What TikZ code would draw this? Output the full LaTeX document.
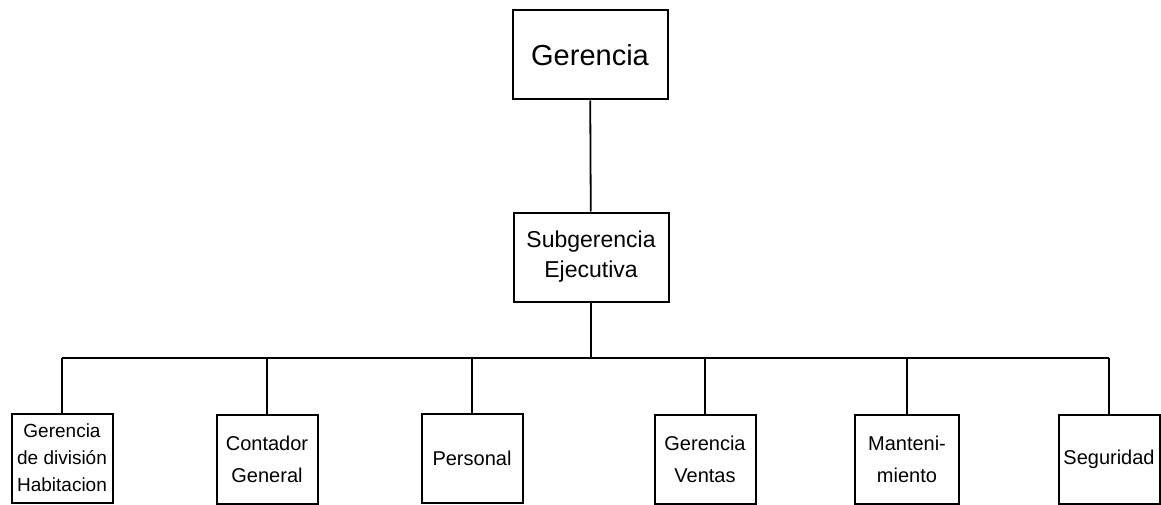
\documentclass[tikz,border=0pt]{standalone}
\usepackage{fontspec}
\setmainfont{Liberation Sans}
\usepackage{tikz}
\usetikzlibrary{positioning, calc}
\tikzset{
    box/.style={rectangle, draw, line width=2pt, inner sep=0pt, minimum height=89pt, align=center},
    topbox/.style={box, minimum width=155pt},
    unitbox/.style={box, minimum width=101pt, font=\fontsize{20}{32}\selectfont},
    link/.style={line width=1.8pt}
}

\begin{document}
\begin{tikzpicture}[x=1pt, y=-1pt]
    \useasboundingbox (0,0) rectangle (1161,505);
    % top of the chart
    \node (ger) [topbox, font=\fontsize{29}{32}\selectfont] at (590,55) {Gerencia};
    \node (subger) [topbox, font=\fontsize{23}{30}\selectfont] at (591,257) {Subgerencia\\Ejecutiva};

    % units
    \node (habit) [unitbox, font=\fontsize{19}{27}\selectfont] at (62,458) {Gerencia\\de división\\Habitacion};
    \node (conta) [unitbox] at (267,459) {Contador\\General};
    \node (perso) [unitbox] at (472,458) {Personal};
    \node (ventas) [unitbox] at (705,459) {Gerencia\\Ventas};
    \node (mant) [unitbox, minimum width=104pt] at (907,459) {Manteni-\\miento};
    \node (segur) [unitbox] at (1109,459) {Seguridad};

    \coordinate (bar) at (0,358);

    \draw [link] (ger) -- (subger);
    \draw [link] (subger.south) -- (subger.south |- bar);
    \draw [link] (bar -| habit.north) -- (bar -| segur.north);
    \foreach \u in {habit, conta, perso, ventas, mant, segur}
        \draw [link] (bar -| \u.north) -- (\u.north);
\end{tikzpicture}
\end{document}
